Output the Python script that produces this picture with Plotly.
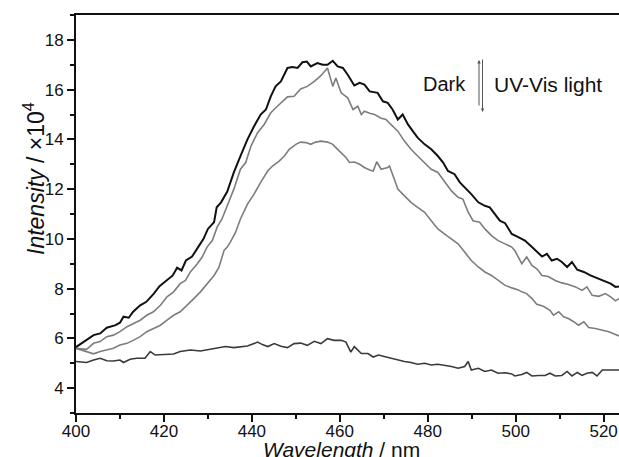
import plotly.graph_objects as go

# ---- data (wavelength in nm, intensity in 1e4 counts) ----
wl_a = [400.0, 402.4, 404.0, 405.5, 407.0, 409.0, 410.0, 410.8, 412.0, 413.0, 414.6, 416.0,
        417.7, 419.0, 421.0, 422.0, 423.0, 424.0, 425.0, 426.4, 428.0, 429.0, 430.0, 431.4,
        432.0, 433.0, 434.4, 435.9, 437.4, 439.0, 440.5, 442.0, 443.2, 444.3, 445.4, 446.6,
        448.1, 449.2, 450.4, 451.5, 452.5, 453.4, 454.9, 456.1, 457.2, 458.4, 459.5, 460.7,
        461.8, 463.3, 464.5, 465.6, 466.8, 468.6, 469.8, 470.9, 472.0, 473.2, 474.3, 475.5,
        476.6, 477.7, 479.3, 480.8, 482.3, 483.5, 484.6, 486.1, 487.3, 488.8, 489.9, 491.5,
        493.0, 494.1, 495.3, 496.4, 497.6, 499.1, 500.6, 502.1, 503.7, 504.8, 506.0, 507.1,
        508.2, 509.4, 510.5, 511.7, 512.8, 514.0, 515.5, 517.0, 518.5, 520.0, 521.6, 522.7,
        523.5]
int_a = [5.65, 5.93, 6.13, 6.20, 6.43, 6.53, 6.63, 6.87, 6.83, 7.07, 7.33, 7.47,
         7.80, 8.10, 8.40, 8.53, 8.84, 8.73, 9.13, 9.29, 9.73, 10.00, 10.40, 10.67,
         11.27, 11.47, 11.90, 12.67, 13.33, 14.00, 14.53, 15.00, 15.20, 15.73, 16.13, 16.33,
         16.87, 16.91, 16.87, 17.10, 17.13, 16.93, 17.07, 17.00, 17.00, 17.16, 16.93, 16.87,
         16.60, 16.17, 16.27, 16.20, 15.93, 15.87, 15.53, 15.47, 15.20, 14.80, 15.00, 14.60,
         14.33, 14.07, 13.80, 13.60, 13.33, 13.07, 12.73, 12.60, 12.27, 12.00, 11.80, 11.47,
         11.33, 11.27, 11.00, 10.73, 10.63, 10.20, 10.07, 9.93, 9.67, 9.47, 9.29, 9.40,
         9.13, 9.20, 9.07, 8.87, 9.07, 8.76, 8.67, 8.53, 8.43, 8.33, 8.20, 8.07,
         8.09]

wl_b = [400.0, 402.4, 404.0, 405.5, 407.0, 408.5, 410.0, 411.6, 413.1, 414.6, 416.1, 417.6,
        419.2, 420.7, 422.2, 423.7, 424.9, 426.0, 427.6, 428.7, 429.8, 431.0, 432.1, 433.2,
        434.4, 435.9, 437.4, 438.6, 439.8, 441.3, 442.8, 444.3, 445.8, 447.0, 448.1, 449.6,
        451.1, 452.6, 454.2, 455.7, 457.2, 458.4, 459.1, 460.3, 461.8, 463.0, 464.1, 464.9,
        465.6, 466.8, 467.9, 469.4, 470.5, 471.6, 473.2, 474.7, 476.2, 477.7, 479.3, 480.8,
        482.3, 483.8, 485.4, 486.9, 488.0, 489.2, 490.3, 491.8, 493.0, 494.5, 496.0, 497.6,
        499.1, 499.8, 501.4, 502.5, 503.7, 504.8, 506.0, 507.4, 509.0, 510.5, 512.0, 513.6,
        515.1, 516.2, 517.4, 518.9, 520.4, 521.6, 522.7, 523.5]
int_b = [5.60, 5.56, 5.80, 5.87, 6.07, 6.13, 6.27, 6.47, 6.60, 6.73, 6.93, 7.07,
         7.33, 7.67, 7.87, 8.20, 8.33, 8.67, 9.00, 9.27, 9.67, 9.93, 10.47, 10.80,
         11.33, 12.00, 12.80, 13.07, 13.73, 14.27, 14.60, 15.07, 15.33, 15.53, 15.71, 15.73,
         16.03, 16.13, 16.33, 16.56, 16.87, 16.13, 16.47, 15.87, 15.67, 15.20, 15.33, 15.00,
         15.13, 15.05, 15.00, 14.85, 14.80, 14.60, 14.33, 13.93, 13.60, 13.33, 13.07, 12.80,
         12.67, 12.33, 11.93, 11.67, 11.60, 11.07, 10.73, 10.67, 10.40, 10.13, 9.93, 9.80,
         9.67, 9.53, 9.00, 9.27, 8.93, 8.80, 8.53, 8.49, 8.33, 8.23, 8.17, 8.07,
         7.93, 8.07, 7.73, 7.69, 7.80, 7.67, 7.51, 7.60]

wl_c = [400.0, 402.4, 404.0, 405.5, 407.0, 408.5, 410.0, 411.6, 413.1, 414.6, 416.1, 417.6,
        419.2, 420.7, 422.2, 423.7, 425.3, 426.8, 428.3, 429.8, 431.4, 432.5, 433.7, 434.4,
        435.1, 436.3, 437.4, 439.0, 440.5, 442.0, 443.6, 444.7, 446.2, 447.4, 448.5, 450.0,
        451.1, 452.3, 453.4, 454.5, 455.7, 457.2, 458.4, 459.5, 460.7, 461.4, 462.2, 463.3,
        464.5, 465.6, 466.8, 467.6, 468.4, 469.4, 470.9, 471.3, 472.4, 473.2, 474.7, 476.2,
        477.7, 479.3, 480.8, 482.3, 483.8, 485.4, 486.9, 488.4, 489.9, 491.5, 493.0, 494.5,
        496.0, 497.6, 499.1, 500.6, 501.4, 502.5, 503.7, 504.8, 506.3, 507.8, 508.6, 509.8,
        510.9, 512.0, 513.2, 514.3, 515.5, 516.6, 518.1, 519.7, 521.2, 522.7, 523.5]
int_c = [5.60, 5.47, 5.38, 5.47, 5.53, 5.60, 5.73, 5.80, 5.93, 6.07, 6.27, 6.40,
         6.53, 6.73, 6.93, 7.07, 7.33, 7.60, 7.87, 8.20, 8.53, 8.85, 9.55, 9.67,
         9.87, 10.27, 10.80, 11.40, 11.80, 12.27, 12.73, 12.93, 13.13, 13.33, 13.60, 13.80,
         13.89, 13.87, 13.80, 13.89, 13.93, 13.89, 13.80, 13.60, 13.40, 13.27, 13.07, 13.09,
         13.00, 12.87, 12.77, 12.73, 13.10, 12.80, 12.87, 12.93, 12.40, 12.00, 11.73, 11.47,
         11.27, 11.07, 10.73, 10.40, 10.20, 10.00, 9.80, 9.47, 9.13, 8.87, 8.67, 8.53,
         8.33, 8.13, 8.03, 7.95, 7.87, 7.80, 7.60, 7.37, 7.29, 7.13, 6.93, 7.07,
         6.87, 6.80, 6.67, 6.53, 6.67, 6.44, 6.40, 6.33, 6.27, 6.16, 6.10]

wl_d = [400.0, 402.4, 404.0, 405.5, 407.0, 408.5, 410.0, 410.8, 412.3, 413.8, 415.7, 416.9,
        418.0, 419.9, 422.2, 423.7, 426.0, 428.3, 430.6, 432.5, 434.0, 435.9, 437.4, 439.0,
        440.5, 441.3, 442.4, 443.6, 445.1, 446.6, 448.1, 449.6, 451.1, 452.6, 454.2, 455.7,
        457.2, 458.7, 460.3, 461.4, 462.5, 463.3, 464.9, 466.4, 467.6, 468.8, 470.1, 471.6,
        473.2, 474.7, 476.2, 477.7, 479.3, 480.8, 482.3, 483.8, 485.4, 486.9, 488.4, 489.2,
        489.9, 491.5, 493.0, 494.5, 496.0, 497.6, 499.1, 499.8, 501.4, 502.5, 503.7, 505.2,
        506.7, 507.8, 509.0, 510.5, 511.7, 512.8, 514.0, 515.1, 516.2, 517.4, 518.5, 519.7,
        521.2, 522.7, 523.5]
int_d = [5.07, 5.03, 5.13, 5.20, 5.10, 5.09, 5.13, 5.03, 5.16, 5.20, 5.20, 5.47,
         5.33, 5.36, 5.37, 5.47, 5.53, 5.49, 5.56, 5.60, 5.67, 5.63, 5.67, 5.69,
         5.79, 5.85, 5.75, 5.67, 5.79, 5.68, 5.63, 5.79, 5.81, 5.72, 5.88, 5.79,
         5.99, 5.92, 5.92, 5.85, 5.45, 5.67, 5.39, 5.39, 5.25, 5.33, 5.27, 5.20,
         5.11, 5.07, 5.03, 4.96, 5.00, 4.93, 4.96, 4.93, 4.87, 4.80, 4.87, 5.07,
         4.73, 4.80, 4.67, 4.73, 4.60, 4.62, 4.57, 4.49, 4.55, 4.63, 4.49, 4.51,
         4.51, 4.60, 4.49, 4.51, 4.67, 4.49, 4.63, 4.51, 4.60, 4.63, 4.49, 4.73,
         4.73, 4.76, 4.73]

x_ticks = [400, 420, 440, 460, 480, 500, 520]
y_ticks = [4, 6, 8, 10, 12, 14, 16, 18]

series = [
    (wl_d, int_d, "#3a3a3a", 1.6),
    (wl_c, int_c, "#7d7d7d", 1.6),
    (wl_b, int_b, "#7d7d7d", 1.6),
    (wl_a, int_a, "#111111", 2.0),
]

fig = go.Figure()
for xs, ys, col, w in series:
    fig.add_trace(go.Scatter(x=xs, y=ys, mode="lines",
                             line=dict(color=col, width=w), showlegend=False,
                             hoverinfo="skip"))

W, H = 619, 457
L, R, T, B = 76, 0, 15, 44
pw, ph = W - L - R, H - T - B

def px(x):
    return (x - L) / pw

def py(y):
    return (H - B - y) / ph

font = "Liberation Sans, Arial, sans-serif"

fig.update_layout(
    width=W, height=H,
    margin=dict(l=L, r=R, t=T, b=B),
    paper_bgcolor="white", plot_bgcolor="white",
    font=dict(family=font, size=17, color="#111"),
    xaxis=dict(range=[400, 523.5], tickvals=x_ticks, ticks="outside", ticklen=7,
               tickwidth=1.5, tickcolor="#111", showline=True, linewidth=2,
               linecolor="#111", mirror=True, showgrid=False, zeroline=False,
               minor=dict(dtick=10, tick0=400, ticks="outside", ticklen=4,
                          tickwidth=1.5, tickcolor="#111"),
               tickfont=dict(size=17), ticklabelstandoff=-5),
    yaxis=dict(range=[3, 19], tickvals=y_ticks, ticks="outside", ticklen=7,
               tickwidth=1.5, tickcolor="#111", showline=True, linewidth=2,
               linecolor="#111", mirror=False, showgrid=False, zeroline=False,
               minor=dict(dtick=1, tick0=3, ticks="outside", ticklen=4,
                          tickwidth=1.5, tickcolor="#111"),
               tickfont=dict(size=17)),
)

annos = [
    dict(text="<i>Intensity</i> / ×10<sup>4</sup>", x=px(34), y=py(179),
         textangle=-90, font=dict(size=23)),
    dict(text="<i>Wavelength</i> / nm", x=px(341), y=py(449), font=dict(size=21)),
    dict(text="Dark", x=px(444), y=py(84), font=dict(size=20)),
    dict(text="UV-Vis light", x=px(548), y=py(84), font=dict(size=21)),
]
for a in annos:
    fig.add_annotation(xref="paper", yref="paper", showarrow=False,
                       xanchor="center", yanchor="middle", **a)

# the two opposing arrows between "Dark" and "UV-Vis light"
fig.add_annotation(xref="paper", yref="paper", x=px(479), y=py(60), ax=0, ay=47,
                   showarrow=True, arrowhead=2, arrowsize=0.7, arrowwidth=1,
                   arrowcolor="#555", text="")
fig.add_annotation(xref="paper", yref="paper", x=px(482.5), y=py(112), ax=0, ay=-54,
                   showarrow=True, arrowhead=2, arrowsize=0.7, arrowwidth=1,
                   arrowcolor="#555", text="")

fig.write_html("out.html", config={"displayModeBar": False},
               post_script="document.body.style.margin='0';document.body.style.overflow='hidden';")
